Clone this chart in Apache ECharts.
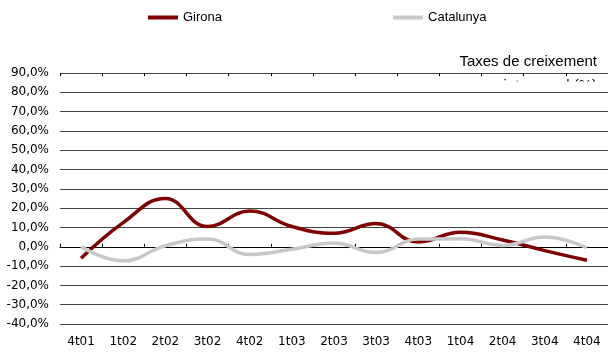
<!DOCTYPE html>
<html>
<head>
<meta charset="utf-8">
<script src="https://cdn.jsdelivr.net/npm/echarts@6/dist/echarts.min.js"></script>
<style>html,body{margin:0;padding:0;background:#fff}#c{width:608px;height:356px}</style>
</head>
<body>
<div id="c"></div>
<script>
const categories = ['4t01','1t02','2t02','3t02','4t02','1t03','2t03','3t03','4t03','1t04','2t04','3t04','4t04'];
const girona = [-6, 12.5, 25, 10.5, 18.5, 10.5, 7, 12, 2.5, 7.5, 3.5, -2, -7];
const catalunya = [0, -7.3, 0.5, 4, -4, -1.3, 2, -3, 4, 4.2, 0.7, 5, -0.5];
const yMin = -40, yMax = 90, yStep = 10;

const chart = echarts.init(document.getElementById('c'), null, {renderer: 'canvas'});
const fmt = v => v.toFixed(1).replace('.', ',') + '%';
const hiddenAxisBase = {
  type: 'category', data: categories, boundaryGap: true,
  axisLabel: {show: false}, splitLine: {show: false}
};
chart.setOption({
  animation: false,
  backgroundColor: '#fff',
  grid: {left: 60, right: 0, top: 73, bottom: 32, containLabel: false},
  legend: {
    left: 143, top: 6, itemWidth: 30, itemHeight: 4, itemGap: 171,
    icon: 'rect',
    textStyle: {fontFamily: 'Liberation Sans', fontSize: 13, color: '#000'},
    data: ['Girona', 'Catalunya']
  },
  graphic: [
    {type: 'text', right: 11, top: 54, z: 10,
     style: {text: 'Taxes de creixement', fontFamily: 'Liberation Sans', fontSize: 15, fill: '#000'}},
    {type: 'text', right: 11, top: 78, z: -2,
     style: {text: 'interanual (%)', fontFamily: 'Liberation Sans', fontSize: 15, fill: '#000'}},
    {type: 'rect', left: 470, top: 81.5, z: -1,
     shape: {width: 138, height: 18}, style: {fill: '#fff'}}
  ],
  xAxis: [
    {type: 'category', data: categories, boundaryGap: true, position: 'bottom',
     axisLine: {show: false, onZero: false}, axisTick: {show: false},
     axisLabel: {fontFamily: 'DejaVu Sans', fontSize: 12, color: '#000', margin: 12, interval: 0}},
    Object.assign({}, hiddenAxisBase, {
      axisLine: {show: true, onZero: true, lineStyle: {color: '#000', width: 1}},
      axisTick: {show: true, length: 3, lineStyle: {color: '#000'}}
    }),
    Object.assign({}, hiddenAxisBase, {
      axisLine: {show: false, onZero: true},
      axisTick: {show: true, inside: true, length: 3, lineStyle: {color: '#000'}}
    })
  ],
  yAxis: {
    type: 'value', min: yMin, max: yMax, interval: yStep,
    axisLine: {show: false}, axisTick: {show: false},
    axisLabel: {formatter: fmt, fontFamily: 'DejaVu Sans', fontSize: 12, color: '#000', margin: 11},
    splitLine: {show: true, lineStyle: {color: '#444', width: 1}}
  },
  series: [
    {name: 'Girona', type: 'line', xAxisIndex: 0, data: girona, smooth: 0.45,
     symbol: 'none', color: '#800000', lineStyle: {width: 3.5, color: '#800000'}, z: 3},
    {name: 'Catalunya', type: 'line', xAxisIndex: 0, data: catalunya, smooth: 0.45,
     symbol: 'none', color: '#C8C8C8', lineStyle: {width: 3.5, color: '#C8C8C8'}, z: 4}
  ]
});
</script>
</body>
</html>
